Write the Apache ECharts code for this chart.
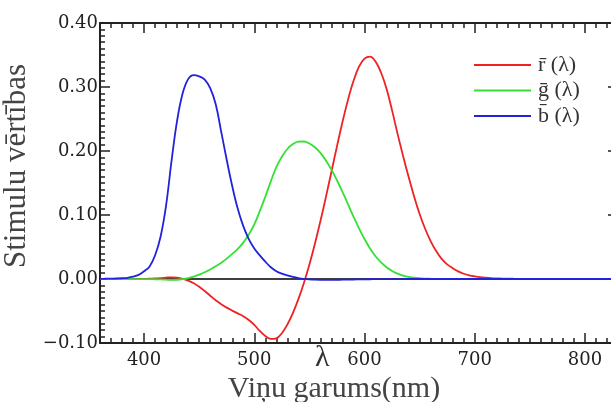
<!DOCTYPE html>
<html><head><meta charset="utf-8">
<script src="https://cdn.jsdelivr.net/npm/echarts@6/dist/echarts.min.js"></script>
<style>html,body{margin:0;padding:0;background:#fff}#c{width:611px;height:402px}</style>
</head><body><div id="c"></div>
<script>
const wavelengths = [360,365,370,375,380,385,390,395,400,405,410,415,420,425,430,435,440,445,450,455,460,465,470,475,480,485,490,495,500,505,510,515,520,525,530,535,540,545,550,555,560,565,570,575,580,585,590,595,600,605,610,615,620,625,630,635,640,645,650,655,660,665,670,675,680,685,690,695,700,705,710,715,720,725,730,735,740,745,750,755,760,765,770,775,780,785,790,795,800,805,810,815,820,825,830];
const rBar = [0,0,0,0,0.00003,0.00005,0.00010,0.00017,0.00030,0.00047,0.00084,0.00139,0.00211,0.00266,0.00218,0.00036,-0.00261,-0.00673,-0.01213,-0.01874,-0.02608,-0.03324,-0.03933,-0.04471,-0.04939,-0.05364,-0.05814,-0.06414,-0.07173,-0.08120,-0.08901,-0.09356,-0.09264,-0.08473,-0.07101,-0.05316,-0.03152,-0.00613,0.02279,0.05514,0.09060,0.12840,0.16768,0.20715,0.24526,0.27989,0.30928,0.33184,0.34429,0.34756,0.33971,0.32265,0.29708,0.26348,0.22677,0.19233,0.15968,0.12905,0.10167,0.07857,0.05932,0.04366,0.03149,0.02294,0.01687,0.01187,0.00819,0.00572,0.00410,0.00291,0.00210,0.00148,0.00105,0.00074,0.00052,0.00036,0.00025,0.00017,0.00012,0.00008,0.00006,0.00004,0.00003,0.00001,0,0,0,0,0,0,0,0,0,0,0];
const gBar = [0,0,0,0,-0.00001,-0.00002,-0.00004,-0.00007,-0.00014,-0.00022,-0.00041,-0.00070,-0.00110,-0.00143,-0.00119,-0.00021,0.00149,0.00379,0.00678,0.01046,0.01485,0.01977,0.02538,0.03183,0.03914,0.04713,0.05689,0.06948,0.08536,0.10593,0.12860,0.15262,0.17468,0.19113,0.20317,0.21083,0.21466,0.21487,0.21178,0.20588,0.19702,0.18522,0.17087,0.15429,0.13610,0.11686,0.09754,0.07909,0.06246,0.04776,0.03557,0.02583,0.01828,0.01253,0.00833,0.00537,0.00334,0.00199,0.00116,0.00066,0.00037,0.00021,0.00011,0.00006,0.00003,0.00001,0,0,0,0,0,0,0,0,0,0,0,0,0,0,0,0,0,0,0,0,0,0,0,0,0,0,0,0,0];
const bBar = [0.0002,0.0004,0.0006,0.0008,0.00117,0.00189,0.00359,0.00647,0.01214,0.01969,0.03707,0.06637,0.11541,0.18575,0.24769,0.29012,0.31228,0.31860,0.31670,0.31166,0.29821,0.27295,0.22991,0.18592,0.14494,0.10961,0.08257,0.06246,0.04776,0.03688,0.02698,0.01842,0.01221,0.00830,0.00549,0.00320,0.00146,0.00023,-0.00058,-0.00105,-0.00130,-0.00138,-0.00135,-0.00123,-0.00108,-0.00093,-0.00079,-0.00063,-0.00049,-0.00038,-0.00030,-0.00022,-0.00015,-0.00011,-0.00008,-0.00005,-0.00003,-0.00002,-0.00001,-0.00001,0,0,0,0,0,0,0,0,0,0,0,0,0,0,0,0,0,0,0,0,0,0,0,0,0,0,0,0,0,0,0,0,0,0,0];
const seriesNames = ['r\u0304 (\u03bb)', 'g\u0304 (\u03bb)', 'b\u0304 (\u03bb)'];
const seriesColors = ['#ee2222', '#33e033', '#2222dd'];
const xLabels = [400, 500, 600, 700, 800];
const xTitle = 'Viņu garums(nm)';
const yTitle = 'Stimulu vērtības';

const FONT = 'DejaVu Serif';
const TFONT = 'Liberation Serif';
const axisCol = '#222';
const chart = echarts.init(document.getElementById('c'), null, {renderer: 'canvas'});
const mk = arr => wavelengths.map((w, i) => [w, arr[i]]);
const baseX = {type: 'value', min: 360, max: 830, splitLine: {show: false}};
chart.setOption({
  animation: false,
  backgroundColor: '#fff',
  grid: {left: 100, top: 23, right: -7, bottom: 59, containLabel: false, outerBoundsMode: 'none'},
  xAxis: [
    Object.assign({}, baseX, {position: 'bottom', interval: 10,
      axisLine: {show: true, onZero: false, lineStyle: {color: axisCol, width: 2}},
      axisTick: {show: true, inside: true, length: 5, lineStyle: {color: axisCol, width: 1.5}},
      axisLabel: {show: true, margin: 8, color: '#222', fontFamily: FONT, fontSize: 18,
        formatter: v => xLabels.indexOf(v) >= 0 ? String(v) : ''},
      name: xTitle, nameLocation: 'middle', nameGap: 23,
      nameTextStyle: {fontFamily: TFONT, fontSize: 30, color: '#444', padding: [0, 50, 0, 0]}}),
    Object.assign({}, baseX, {position: 'bottom',
      axisLine: {show: false, onZero: false},
      axisTick: {show: true, inside: true, length: 10, lineStyle: {color: axisCol, width: 1.5}},
      axisLabel: {show: false}}),
    Object.assign({}, baseX, {position: 'top', interval: 10,
      axisLine: {show: true, onZero: false, lineStyle: {color: axisCol, width: 2}},
      axisTick: {show: true, inside: true, length: 5, lineStyle: {color: axisCol, width: 1.5}},
      axisLabel: {show: false}}),
    Object.assign({}, baseX, {position: 'top',
      axisLine: {show: false, onZero: false},
      axisTick: {show: true, inside: true, length: 10, lineStyle: {color: axisCol, width: 1.5}},
      axisLabel: {show: false}}),
    Object.assign({}, baseX, {position: 'bottom',
      axisLine: {show: true, onZero: true, onZeroAxisIndex: 0, lineStyle: {color: '#000', width: 1.5}},
      axisTick: {show: false}, axisLabel: {show: false}})
  ],
  yAxis: [
    {type: 'value', position: 'left', min: -0.1, max: 0.4, interval: 0.1,
      splitLine: {show: false},
      axisLine: {show: true, onZero: false, lineStyle: {color: axisCol, width: 2}},
      axisTick: {show: true, inside: true, length: 10, lineStyle: {color: axisCol, width: 1.5}},
      minorTick: {show: true, splitNumber: 10, length: 5, lineStyle: {color: axisCol, width: 1.5}},
      axisLabel: {show: true, margin: 2, color: '#222', fontFamily: FONT, fontSize: 18,
        formatter: v => (v < 0 ? '\u2212' : '') + Math.abs(v).toFixed(2)},
      name: yTitle, nameLocation: 'middle', nameGap: 54, nameRotate: 90,
      nameTextStyle: {fontFamily: TFONT, fontSize: 31, color: '#444', padding: [0, 0, 0, 34]}},
    {type: 'value', position: 'right', min: -0.1, max: 0.4, interval: 0.1,
      splitLine: {show: false},
      axisLine: {show: true, onZero: false, lineStyle: {color: axisCol, width: 2}},
      axisTick: {show: true, inside: true, length: 10, lineStyle: {color: axisCol, width: 1.5}},
      minorTick: {show: true, splitNumber: 10, length: 5, lineStyle: {color: axisCol, width: 1.5}},
      axisLabel: {show: false}}
  ],
  legend: {orient: 'vertical', left: 469, top: 49, itemWidth: 57, itemHeight: 2, itemGap: 3.5,
    icon: 'rect',
    textStyle: {fontFamily: TFONT, fontSize: 22, color: '#333', padding: [0, 0, 0, 2]},
    data: seriesNames},
  graphic: [{type: 'text', left: 315, top: 343, style: {text: '\u03bb', font: '30px "Liberation Serif"', fill: '#333'}}],
  series: seriesNames.map((n, i) => ({
    name: n, type: 'line', xAxisIndex: 0, yAxisIndex: 0,
    data: mk([rBar, gBar, bBar][i]), showSymbol: false, symbol: 'none', smooth: 0.4,
    lineStyle: {color: seriesColors[i], width: 1.8}, itemStyle: {color: seriesColors[i]},
    z: 3 + i
  }))
});
</script></body></html>
